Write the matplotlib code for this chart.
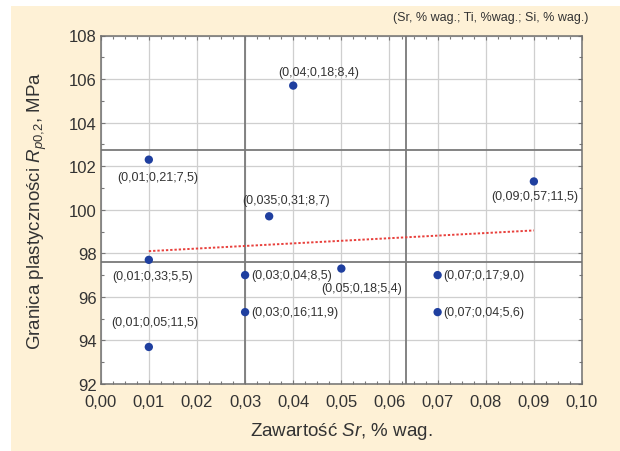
import matplotlib
matplotlib.use("Agg")
import matplotlib.pyplot as plt
from matplotlib.patches import Rectangle
from matplotlib.ticker import MultipleLocator

plt.rcParams["font.family"] = ["Liberation Sans", "DejaVu Sans"]
plt.rcParams["mathtext.fontset"] = "custom"
plt.rcParams["mathtext.rm"] = "Liberation Sans"
plt.rcParams["mathtext.it"] = "Liberation Sans:italic"

# Dane (Sr, Rp0,2) i opisy punktów
sr = [0.04, 0.01, 0.035, 0.01, 0.03, 0.05, 0.07, 0.09, 0.03, 0.07, 0.01]
rp = [105.7, 102.3, 99.7, 97.7, 97.0, 97.3, 97.0, 101.3, 95.3, 95.3, 93.7]
labels = ["(0,04;0,18;8,4)", "(0,01;0,21;7,5)", "(0,035;0,31;8,7)",
          "(0,01;0,33;5,5)", "(0,03;0,04;8,5)", "(0,05;0,18;5,4)",
          "(0,07;0,17;9,0)", "(0,09;0,57;11,5)", "(0,03;0,16;11,9)",
          "(0,07;0,04;5,6)", "(0,01;0,05;11,5)"]

# linia trendu (odczytane końce)
trend_x = [0.01, 0.09]
trend_y = [98.1, 99.05]

# linie odniesienia
ref_x = [0.03, 0.0634]
ref_y = [102.75, 97.6]

x_ticks = [0.00, 0.01, 0.02, 0.03, 0.04, 0.05, 0.06, 0.07, 0.08, 0.09, 0.10]
x_ticklabels = ["0,00", "0,01", "0,02", "0,03", "0,04", "0,05",
                "0,06", "0,07", "0,08", "0,09", "0,10"]
y_ticks = [92, 94, 96, 98, 100, 102, 104, 106, 108]

# przesunięcia opisów (piksele) i wyrównanie
offsets = [(25, 14), (9, -17), (17, 16), (4, -16), (6, 0), (20, -19),
           (6, 0), (1, -15), (6, 0), (6, 0), (6, 25)]
aligns = ["center", "center", "center", "center", "left", "center",
          "left", "center", "left", "left", "center"]

cream = "#fef1d6"
txt = "#333333"

fig = plt.figure(figsize=(6.2, 4.52), dpi=100)
fig.patch.set_facecolor("white")
fig.add_artist(Rectangle((11 / 620, 0), 1, 1 - 7 / 452, transform=fig.transFigure,
                         facecolor=cream, edgecolor="none", zorder=-10))

ax = fig.add_axes([100.7 / 620, 1 - 385 / 452, (582 - 100.7) / 620, (385 - 36.5) / 452])
ax.set_facecolor("white")
ax.set_xlim(0, 0.10)
ax.set_ylim(92, 108)

ax.set_xticks(x_ticks)
ax.set_xticklabels(x_ticklabels)
ax.set_yticks(y_ticks)
ax.xaxis.set_minor_locator(MultipleLocator(0.0025))
ax.yaxis.set_minor_locator(MultipleLocator(1))
ax.tick_params(which="both", direction="in", top=True, right=True,
               colors="#777777", labelcolor=txt, labelsize=12)
ax.tick_params(which="major", length=3, width=0.8)
ax.tick_params(which="minor", length=2, width=0.8)
ax.tick_params(axis="x", pad=7)
ax.tick_params(axis="y", pad=3)
ax.grid(True, which="major", color="#cfcfcf", linewidth=0.9)
ax.set_axisbelow(True)
for s in ax.spines.values():
    s.set_color("#707070")
    s.set_linewidth(1.1)

for v in ref_x:
    ax.axvline(v, color="#7a7a7a", linewidth=1.3, zorder=1)
for v in ref_y:
    ax.axhline(v, color="#7a7a7a", linewidth=1.3, zorder=1)

ax.plot(trend_x, trend_y, color="#e8403c", linestyle=(0, (1.2, 1.0)), linewidth=1.4, zorder=2)
ax.scatter(sr, rp, s=36, color="#1f3f9f", zorder=3, edgecolors="none")

for x, y, lab, off, ha in zip(sr, rp, labels, offsets, aligns):
    ax.annotate(lab, (x, y), xytext=off, textcoords="offset pixels",
                ha=ha, va="center", fontsize=9, color=txt, zorder=4)

ax.set_xlabel("Zawartość $Sr$, % wag.", fontsize=13.5, color=txt, labelpad=8)
ax.set_ylabel("Granica plastyczności $R_{p0{,}2}$, MPa", fontsize=13.5, color=txt, labelpad=14)

fig.text(588 / 620, 1 - 18 / 452, "(Sr, % wag.; Ti, %wag.; Si, % wag.)",
         ha="right", va="center", fontsize=9, color=txt)

fig.savefig("out.png", dpi=100, facecolor=fig.get_facecolor())
